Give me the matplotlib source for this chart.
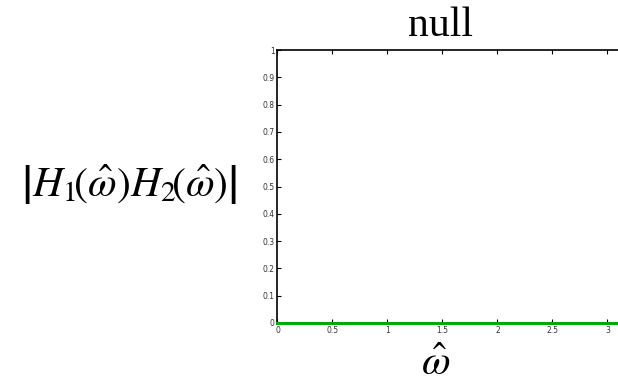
import numpy as np
import matplotlib
matplotlib.use("Agg")
import matplotlib.pyplot as plt

plt.rcParams['mathtext.fontset'] = 'stix'
plt.rcParams['font.family'] = 'Liberation Serif'

# frequency axis and magnitude of the cascaded response (all zero)
w_hat = [0.0, np.pi]
mag = [0.0, 0.0]
x_ticks = [0, 0.5, 1, 1.5, 2, 2.5, 3]
y_ticks = [0, 0.1, 0.2, 0.3, 0.4, 0.5, 0.6, 0.7, 0.8, 0.9, 1]

fig = plt.figure(figsize=(6.18, 3.83), dpi=100)
ax = fig.add_axes([0.449, 0.157, 0.559, 0.712])

ax.plot(w_hat, mag, color='#00aa00', linewidth=2.2, clip_on=False, zorder=3)
ax.set_xlim(0, np.pi)
ax.set_ylim(0, 1)
ax.set_xticks(x_ticks)
ax.set_xticklabels([f'{t:g}' for t in x_ticks])
ax.set_yticks(y_ticks)
ax.set_yticklabels([f'{t:g}' for t in y_ticks])
ax.tick_params(direction='in', length=3, width=0.8, labelsize=5.5,
               labelcolor='#333333', pad=2, top=True)
for lab in ax.get_xticklabels() + ax.get_yticklabels():
    lab.set_family('DejaVu Sans')
for side in ax.spines:
    ax.spines[side].set_linewidth(1.2)
ax.spines['right'].set_visible(False)

fig.text(0.713, 0.933, 'null', fontsize=30, ha='center', va='center')
fig.text(0.209, 0.515,
         r'$\left|H_1\!\left(\hat{\omega}\right)H_2\!\left(\hat{\omega}\right)\right|$',
         fontsize=30, ha='center', va='center')
fig.text(0.705, 0.048, r'$\hat{\omega}$', fontsize=30, ha='center', va='center')

fig.savefig('out.png', dpi=100)
